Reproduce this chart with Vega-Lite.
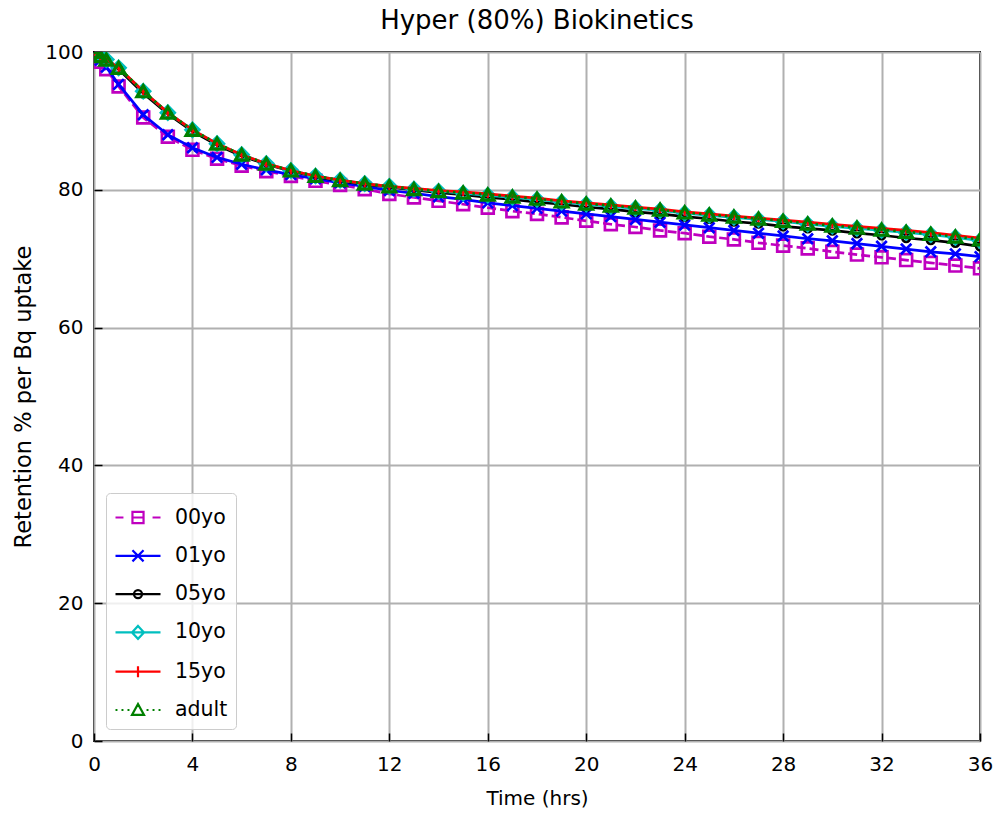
{
"$schema": "https://vega.github.io/schema/vega-lite/v6.json",
"width": 886, "height": 689,
"autosize": {"type": "none"},
"padding": {"left": 94, "top": 52, "right": 18, "bottom": 75},
"title": {"text": "Hyper (80%) Biokinetics", "fontSize": 26, "font": "DejaVu Sans", "fontWeight": "normal", "color": "black", "offset": 8, "anchor": "middle"},
"config": {
  "view": {"stroke": "black", "strokeWidth": 2},
  "font": "DejaVu Sans",
  "axis": {"gridColor": "#b0b0b0", "gridWidth": 2, "gridOpacity": 1, "domain": false, "tickColor": "black", "tickSize": -8, "tickWidth": 1.5, "labelFontSize": 20, "labelColor": "black", "titleFontSize": 20, "titleFontWeight": "normal", "titleColor": "black", "labelPadding": 19, "labelFont": "DejaVu Sans", "titleFont": "DejaVu Sans", "labelFlush": false, "labelOverlap": false}
},
"data": {"values": [
{"series":"00yo","t":0,"v":100},{"series":"00yo","t":0.25,"v":98.6},{"series":"00yo","t":0.5,"v":97.5},{"series":"00yo","t":1,"v":95.0},{"series":"00yo","t":2,"v":90.5},{"series":"00yo","t":3,"v":87.7},{"series":"00yo","t":4,"v":85.8},{"series":"00yo","t":5,"v":84.5},{"series":"00yo","t":6,"v":83.5},{"series":"00yo","t":7,"v":82.7},{"series":"00yo","t":8,"v":82.0},{"series":"00yo","t":9,"v":81.3},{"series":"00yo","t":10,"v":80.7},{"series":"00yo","t":11,"v":80.1},{"series":"00yo","t":12,"v":79.4},{"series":"00yo","t":13,"v":78.9},{"series":"00yo","t":14,"v":78.4},{"series":"00yo","t":15,"v":77.9},{"series":"00yo","t":16,"v":77.4},{"series":"00yo","t":17,"v":76.9},{"series":"00yo","t":18,"v":76.5},{"series":"00yo","t":19,"v":76.0},{"series":"00yo","t":20,"v":75.5},{"series":"00yo","t":21,"v":75.0},{"series":"00yo","t":22,"v":74.6},{"series":"00yo","t":23,"v":74.1},{"series":"00yo","t":24,"v":73.7},{"series":"00yo","t":25,"v":73.2},{"series":"00yo","t":26,"v":72.8},{"series":"00yo","t":27,"v":72.3},{"series":"00yo","t":28,"v":71.9},{"series":"00yo","t":29,"v":71.5},{"series":"00yo","t":30,"v":71.0},{"series":"00yo","t":31,"v":70.6},{"series":"00yo","t":32,"v":70.2},{"series":"00yo","t":33,"v":69.8},{"series":"00yo","t":34,"v":69.4},{"series":"00yo","t":35,"v":69.0},{"series":"00yo","t":36,"v":68.6},
{"series":"01yo","t":0,"v":100},{"series":"01yo","t":0.25,"v":98.8},{"series":"01yo","t":0.5,"v":97.8},{"series":"01yo","t":1,"v":95.3},{"series":"01yo","t":2,"v":90.9},{"series":"01yo","t":3,"v":88.0},{"series":"01yo","t":4,"v":86.1},{"series":"01yo","t":5,"v":84.7},{"series":"01yo","t":6,"v":83.7},{"series":"01yo","t":7,"v":82.9},{"series":"01yo","t":8,"v":82.2},{"series":"01yo","t":9,"v":81.6},{"series":"01yo","t":10,"v":81.0},{"series":"01yo","t":11,"v":80.5},{"series":"01yo","t":12,"v":79.9},{"series":"01yo","t":13,"v":79.5},{"series":"01yo","t":14,"v":79.0},{"series":"01yo","t":15,"v":78.6},{"series":"01yo","t":16,"v":78.1},{"series":"01yo","t":17,"v":77.7},{"series":"01yo","t":18,"v":77.3},{"series":"01yo","t":19,"v":76.9},{"series":"01yo","t":20,"v":76.5},{"series":"01yo","t":21,"v":76.1},{"series":"01yo","t":22,"v":75.7},{"series":"01yo","t":23,"v":75.3},{"series":"01yo","t":24,"v":74.9},{"series":"01yo","t":25,"v":74.5},{"series":"01yo","t":26,"v":74.1},{"series":"01yo","t":27,"v":73.7},{"series":"01yo","t":28,"v":73.3},{"series":"01yo","t":29,"v":72.9},{"series":"01yo","t":30,"v":72.6},{"series":"01yo","t":31,"v":72.2},{"series":"01yo","t":32,"v":71.8},{"series":"01yo","t":33,"v":71.4},{"series":"01yo","t":34,"v":71.0},{"series":"01yo","t":35,"v":70.7},{"series":"01yo","t":36,"v":70.3},
{"series":"05yo","t":0,"v":100},{"series":"05yo","t":0.25,"v":99.4},{"series":"05yo","t":0.5,"v":98.8},{"series":"05yo","t":1,"v":97.5},{"series":"05yo","t":2,"v":94.0},{"series":"05yo","t":3,"v":91.0},{"series":"05yo","t":4,"v":88.5},{"series":"05yo","t":5,"v":86.5},{"series":"05yo","t":6,"v":84.9},{"series":"05yo","t":7,"v":83.7},{"series":"05yo","t":8,"v":82.7},{"series":"05yo","t":9,"v":81.9},{"series":"05yo","t":10,"v":81.3},{"series":"05yo","t":11,"v":80.8},{"series":"05yo","t":12,"v":80.4},{"series":"05yo","t":13,"v":80.0},{"series":"05yo","t":14,"v":79.6},{"series":"05yo","t":15,"v":79.3},{"series":"05yo","t":16,"v":78.9},{"series":"05yo","t":17,"v":78.6},{"series":"05yo","t":18,"v":78.2},{"series":"05yo","t":19,"v":77.9},{"series":"05yo","t":20,"v":77.5},{"series":"05yo","t":21,"v":77.2},{"series":"05yo","t":22,"v":76.8},{"series":"05yo","t":23,"v":76.5},{"series":"05yo","t":24,"v":76.1},{"series":"05yo","t":25,"v":75.8},{"series":"05yo","t":26,"v":75.4},{"series":"05yo","t":27,"v":75.1},{"series":"05yo","t":28,"v":74.7},{"series":"05yo","t":29,"v":74.4},{"series":"05yo","t":30,"v":74.1},{"series":"05yo","t":31,"v":73.7},{"series":"05yo","t":32,"v":73.4},{"series":"05yo","t":33,"v":73.0},{"series":"05yo","t":34,"v":72.7},{"series":"05yo","t":35,"v":72.3},{"series":"05yo","t":36,"v":71.8},
{"series":"10yo","t":0,"v":100},{"series":"10yo","t":0.25,"v":99.4},{"series":"10yo","t":0.5,"v":98.9},{"series":"10yo","t":1,"v":97.7},{"series":"10yo","t":2,"v":94.3},{"series":"10yo","t":3,"v":91.2},{"series":"10yo","t":4,"v":88.7},{"series":"10yo","t":5,"v":86.7},{"series":"10yo","t":6,"v":85.1},{"series":"10yo","t":7,"v":83.8},{"series":"10yo","t":8,"v":82.8},{"series":"10yo","t":9,"v":82.0},{"series":"10yo","t":10,"v":81.4},{"series":"10yo","t":11,"v":80.9},{"series":"10yo","t":12,"v":80.5},{"series":"10yo","t":13,"v":80.1},{"series":"10yo","t":14,"v":79.8},{"series":"10yo","t":15,"v":79.5},{"series":"10yo","t":16,"v":79.2},{"series":"10yo","t":17,"v":78.9},{"series":"10yo","t":18,"v":78.6},{"series":"10yo","t":19,"v":78.2},{"series":"10yo","t":20,"v":77.9},{"series":"10yo","t":21,"v":77.6},{"series":"10yo","t":22,"v":77.3},{"series":"10yo","t":23,"v":77.0},{"series":"10yo","t":24,"v":76.6},{"series":"10yo","t":25,"v":76.3},{"series":"10yo","t":26,"v":76.0},{"series":"10yo","t":27,"v":75.7},{"series":"10yo","t":28,"v":75.4},{"series":"10yo","t":29,"v":75.0},{"series":"10yo","t":30,"v":74.7},{"series":"10yo","t":31,"v":74.4},{"series":"10yo","t":32,"v":74.1},{"series":"10yo","t":33,"v":73.8},{"series":"10yo","t":34,"v":73.5},{"series":"10yo","t":35,"v":73.1},{"series":"10yo","t":36,"v":72.6},
{"series":"15yo","t":0,"v":100},{"series":"15yo","t":0.25,"v":99.4},{"series":"15yo","t":0.5,"v":98.9},{"series":"15yo","t":1,"v":97.7},{"series":"15yo","t":2,"v":94.3},{"series":"15yo","t":3,"v":91.2},{"series":"15yo","t":4,"v":88.7},{"series":"15yo","t":5,"v":86.7},{"series":"15yo","t":6,"v":85.1},{"series":"15yo","t":7,"v":83.8},{"series":"15yo","t":8,"v":82.8},{"series":"15yo","t":9,"v":82.0},{"series":"15yo","t":10,"v":81.4},{"series":"15yo","t":11,"v":80.9},{"series":"15yo","t":12,"v":80.5},{"series":"15yo","t":13,"v":80.2},{"series":"15yo","t":14,"v":79.9},{"series":"15yo","t":15,"v":79.7},{"series":"15yo","t":16,"v":79.4},{"series":"15yo","t":17,"v":79.1},{"series":"15yo","t":18,"v":78.8},{"series":"15yo","t":19,"v":78.4},{"series":"15yo","t":20,"v":78.1},{"series":"15yo","t":21,"v":77.8},{"series":"15yo","t":22,"v":77.5},{"series":"15yo","t":23,"v":77.2},{"series":"15yo","t":24,"v":76.8},{"series":"15yo","t":25,"v":76.5},{"series":"15yo","t":26,"v":76.2},{"series":"15yo","t":27,"v":75.9},{"series":"15yo","t":28,"v":75.6},{"series":"15yo","t":29,"v":75.3},{"series":"15yo","t":30,"v":75.0},{"series":"15yo","t":31,"v":74.7},{"series":"15yo","t":32,"v":74.4},{"series":"15yo","t":33,"v":74.1},{"series":"15yo","t":34,"v":73.8},{"series":"15yo","t":35,"v":73.4},{"series":"15yo","t":36,"v":73.0},
{"series":"adult","t":0,"v":100},{"series":"adult","t":0.25,"v":99.4},{"series":"adult","t":0.5,"v":98.9},{"series":"adult","t":1,"v":97.7},{"series":"adult","t":2,"v":94.3},{"series":"adult","t":3,"v":91.2},{"series":"adult","t":4,"v":88.7},{"series":"adult","t":5,"v":86.7},{"series":"adult","t":6,"v":85.1},{"series":"adult","t":7,"v":83.8},{"series":"adult","t":8,"v":82.8},{"series":"adult","t":9,"v":82.0},{"series":"adult","t":10,"v":81.4},{"series":"adult","t":11,"v":80.9},{"series":"adult","t":12,"v":80.5},{"series":"adult","t":13,"v":80.1},{"series":"adult","t":14,"v":79.8},{"series":"adult","t":15,"v":79.6},{"series":"adult","t":16,"v":79.3},{"series":"adult","t":17,"v":79.0},{"series":"adult","t":18,"v":78.7},{"series":"adult","t":19,"v":78.3},{"series":"adult","t":20,"v":78.0},{"series":"adult","t":21,"v":77.7},{"series":"adult","t":22,"v":77.4},{"series":"adult","t":23,"v":77.1},{"series":"adult","t":24,"v":76.7},{"series":"adult","t":25,"v":76.4},{"series":"adult","t":26,"v":76.1},{"series":"adult","t":27,"v":75.8},{"series":"adult","t":28,"v":75.5},{"series":"adult","t":29,"v":75.1},{"series":"adult","t":30,"v":74.8},{"series":"adult","t":31,"v":74.5},{"series":"adult","t":32,"v":74.2},{"series":"adult","t":33,"v":73.9},{"series":"adult","t":34,"v":73.6},{"series":"adult","t":35,"v":73.2},{"series":"adult","t":36,"v":72.8}
]},
"encoding": {
  "x": {"field": "t", "type": "quantitative", "scale": {"domain": [0, 36], "nice": false, "zero": false}, "axis": {"values": [0,4,8,12,16,20,24,28,32,36], "title": "Time (hrs)", "labelPadding": 21, "titlePadding": 14}},
  "y": {"field": "v", "type": "quantitative", "scale": {"domain": [0, 100], "nice": false}, "axis": {"values": [0,20,40,60,80,100], "title": "Retention % per Bq uptake", "titleFontSize": 22.5, "titlePadding": 9}}
},
"layer": [
  {"transform": [{"filter": "datum.series === '00yo'"}], "layer": [
    {"mark": {"type": "line", "color": "#bf00bf", "strokeWidth": 2.7, "strokeDash": [9, 4], "clip": true}},
    {"mark": {"type": "point", "shape": "square", "color": "#bf00bf", "filled": false, "size": 140, "strokeWidth": 2.7, "opacity": 1, "clip": true}}
  ]},
  {"transform": [{"filter": "datum.series === '01yo'"}], "layer": [
    {"mark": {"type": "line", "color": "#0000ff", "strokeWidth": 2.7, "clip": true}},
    {"mark": {"type": "point", "shape": "M-1,-1L1,1M-1,1L1,-1", "color": "#0000ff", "filled": false, "size": 110, "strokeWidth": 2.7, "opacity": 1, "clip": true}}
  ]},
  {"transform": [{"filter": "datum.series === '05yo'"}], "layer": [
    {"mark": {"type": "line", "color": "#000000", "strokeWidth": 2.7, "clip": true}},
    {"mark": {"type": "point", "shape": "circle", "color": "#000000", "filled": false, "size": 60, "strokeWidth": 2.7, "opacity": 1, "clip": true}}
  ]},
  {"transform": [{"filter": "datum.series === '10yo'"}], "layer": [
    {"mark": {"type": "line", "color": "#00bfbf", "strokeWidth": 2.7, "clip": true}},
    {"mark": {"type": "point", "shape": "diamond", "color": "#00bfbf", "filled": false, "size": 190, "strokeWidth": 2.7, "opacity": 1, "clip": true}}
  ]},
  {"transform": [{"filter": "datum.series === '15yo'"}], "layer": [
    {"mark": {"type": "line", "color": "#ff0000", "strokeWidth": 2.7, "clip": true}},
    {"mark": {"type": "point", "shape": "M-1,0H1M0,-1V1", "color": "#ff0000", "filled": false, "size": 70, "strokeWidth": 2, "opacity": 1, "clip": true}}
  ]},
  {"transform": [{"filter": "datum.series === 'adult'"}], "layer": [
    {"mark": {"type": "line", "color": "#008000", "strokeWidth": 2.7, "strokeDash": [2.5, 4], "clip": true}},
    {"mark": {"type": "point", "shape": "triangle-up", "color": "#008000", "filled": false, "size": 160, "strokeWidth": 3.2, "opacity": 1, "clip": true}}
  ]},
  {"mark": {"type": "point", "filled": false, "opacity": 0, "clip": true},
   "encoding": {
     "color": {"field": "series", "type": "nominal",
       "scale": {"domain": ["00yo","01yo","05yo","10yo","15yo","adult"], "range": ["#bf00bf","#0000ff","#000000","#00bfbf","#ff0000","#008000"]},
       "legend": {"orient": "bottom-left", "offset": 12, "title": null, "padding": 8, "rowPadding": 11.3, "symbolSize": 900, "symbolStrokeWidth": 2.2, "symbolOpacity": 1, "labelFontSize": 20.5, "labelOffset": 28, "labelColor": "black", "labelFont": "DejaVu Sans", "strokeColor": "#cccccc", "fillColor": "rgba(255,255,255,0.8)", "cornerRadius": 4}},
     "shape": {"field": "series", "type": "nominal",
       "scale": {"domain": ["00yo","01yo","05yo","10yo","15yo","adult"], "range": [
         "M-1,0H-0.47M1.47,0H2M0.2,0H0.8M0.13,-0.37H0.87V0.37H0.13Z",
         "M-1,0H2M0.13,-0.37L0.87,0.37M0.13,0.37L0.87,-0.37",
         "M-1,0H2M0.77,0A0.27,0.27 0 1,1 0.23,0A0.27,0.27 0 1,1 0.77,0",
         "M-1,0H2M0.5,-0.43L0.9,0L0.5,0.43L0.1,0Z",
         "M-1,0H2M0.5,-0.37V0.37",
         "M-1,0H-0.87M-0.6,0H-0.47M-0.2,0H-0.07M0.5,-0.4L0.9,0.33L0.1,0.33ZM1.07,0H1.2M1.47,0H1.6M1.87,0H2"
       ]}}
   }}
]
}
